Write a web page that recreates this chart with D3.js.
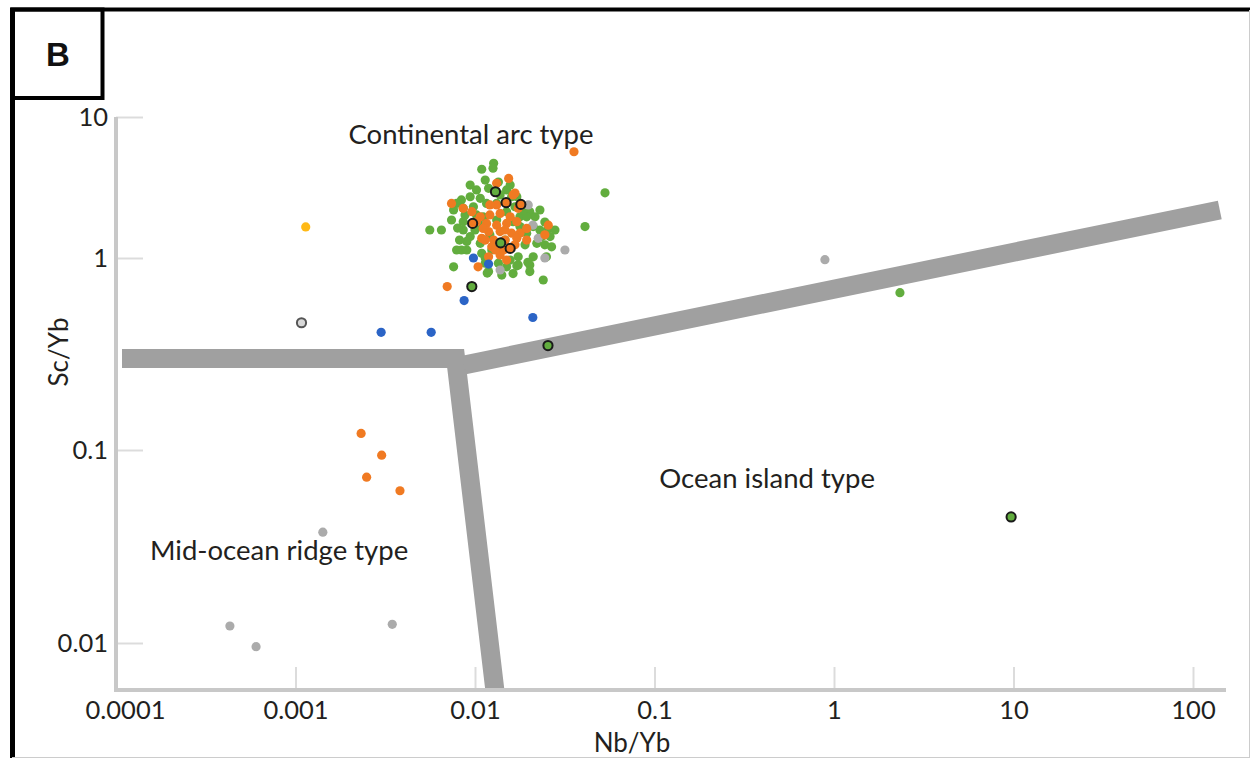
<!DOCTYPE html>
<html>
<head>
<meta charset="utf-8">
<script src="https://cdn.jsdelivr.net/npm/d3@7"></script>
<style>
  body { margin: 0; background: #fff; }
  text { font-family: Lato, "Open Sans", sans-serif; fill: #231f20; }
</style>
</head>
<body>
<svg id="chart" width="1250" height="758"></svg>
<script>
// ---- data: [Nb/Yb, Sc/Yb] ----
const greenSamples = [
  [0.0127,4.70],[0.0126,4.33],[0.0109,4.26],[0.0114,3.57],[0.0102,3.04],[0.0119,3.12],
  [0.0107,2.65],[0.0094,2.72],[0.0084,2.58],[0.0079,2.44],[0.0086,2.25],[0.0098,2.31],
  [0.0116,2.44],[0.0132,2.44],[0.0160,2.72],[0.0167,2.31],[0.0150,2.13],[0.0178,1.96],
  [0.0202,2.13],[0.0216,1.96],[0.0211,1.67],[0.0194,1.50],[0.0230,1.58],[0.0256,1.62],
  [0.0279,1.58],[0.0262,1.42],[0.0245,1.24],[0.0267,1.20],[0.0250,1.02],[0.0211,1.02],
  [0.0202,0.92],[0.0174,0.92],[0.0163,0.83],[0.0141,0.815],[0.0119,0.85],[0.0114,0.94],
  [0.0084,1.14],[0.0079,1.14],[0.0090,1.14],[0.0076,0.90],[0.0065,1.58],[0.0056,1.58],
  [0.0410,1.67],[0.0240,0.768],[0.0202,0.85],[0.0157,0.976],[0.0135,0.94],[0.0094,1.42],
  [0.0086,1.58],[0.0086,1.81],[0.0074,1.86],[0.0076,2.19],[0.0088,2.02],[0.0102,2.02],
  [0.0111,1.96],[0.0132,1.86],[0.0163,1.81],[0.0178,1.67],[0.0194,1.96],[0.0150,3.04],
  [0.0171,2.72],[0.0186,2.19],[0.0221,1.27],[0.0236,1.42],[0.0090,1.31],[0.0107,1.27],
  [0.0124,1.14],[0.0109,1.08],[0.0150,0.90],[0.0174,1.02],[0.0117,0.835],[0.0171,0.91],
  [0.0100,1.58],[0.0121,1.46],[0.0147,1.34],[0.0107,1.71],[0.0138,2.80],[0.0157,3.29],
  [0.0230,2.19],[0.0245,1.80],[0.0190,1.24],[0.0082,1.34],[0.0114,1.00],[0.0135,3.46],
  [0.0094,3.29],[0.0080,1.63],[0.0197,0.95],
  [0.053,2.90],[2.33,0.66]
];
const orangeSamples = [
  [0.0356,5.67],[0.0154,3.67],[0.0132,3.39],[0.0163,2.80],[0.0074,2.44],[0.0086,2.25],
  [0.0096,2.13],[0.0107,1.96],[0.0121,2.02],[0.0138,2.07],[0.0157,1.96],[0.0116,1.76],
  [0.0132,1.71],[0.0150,1.76],[0.0171,1.81],[0.0119,1.54],[0.0138,1.54],[0.0160,1.50],
  [0.0178,1.50],[0.0194,1.62],[0.0109,1.38],[0.0127,1.34],[0.0147,1.34],[0.0171,1.38],
  [0.0124,1.20],[0.0144,1.14],[0.0138,1.05],[0.0150,0.976],[0.0119,1.02],[0.0104,0.90],
  [0.0070,0.71],[0.0256,1.71],[0.0245,1.46],[0.0194,1.34],[0.0111,1.62],[0.0102,1.81],
  [0.0174,2.25],[0.0132,2.38],[0.0167,2.89],[0.0147,1.58],[0.0167,1.24],[0.0130,1.14],
  [0.0114,1.34],[0.0121,2.38],
  [0.00232,0.122],[0.00302,0.094],[0.00249,0.0723],[0.00382,0.0615]
];
const graySamples = [
  [0.0198,2.38],[0.0225,1.38],[0.0245,1.00],[0.0317,1.14],[0.0138,0.866],[0.0210,1.71],
  [0.89,0.98],[0.00142,0.0375],[0.000431,0.01225],[0.000603,0.00957],[0.00346,0.0125]
];
const blueSamples = [[0.0030,0.41],[0.0057,0.41],[0.0087,0.60],[0.021,0.49],[0.0098,1.00],[0.0119,0.93]];
const yellowSamples = [[0.00114,1.66]];
const ringedGreen = [[0.0130,2.95],[0.0139,1.28],[0.0096,0.71],[0.0255,0.35],[9.7,0.045]];
const ringedOrange = [[0.0149,2.47],[0.0180,2.40],[0.0097,1.76],[0.0157,1.17]];
const ringedGray = [[0.00108,0.46]];

// field boundaries
const boundaryMorbArc = [[1.08e-4,0.30],[0.0078,0.30],[0.0129,0.0057]];
const boundaryArcOib = [[0.0087,0.277],[141,2.19]];

const xTicks = [0.0001,0.001,0.01,0.1,1,10,100];
const xTickLabels = ["0.0001","0.001","0.01","0.1","1","10","100"];
const yTicks = [10,1,0.1,0.01];
const yTickLabels = ["10","1","0.1","0.01"];

const regionLabels = ["Continental arc type","Ocean island type","Mid-ocean ridge type"];
const regionAnchors = [[0.0095,6.44],[0.424,0.0635],[0.00081,0.0269]];

// ---- chart ----
const svg = d3.select("#chart");

const x = d3.scaleLog().domain([1e-4, 100]).range([116, 1193]);
// the original figure's decades are not evenly spaced on the y axis
const y = d3.scaleLog().domain([0.0057, 0.01, 0.1, 1, 10]).range([690, 643, 450, 258, 117]);

// frame + panel letter
svg.append("line").attr("x1", 10).attr("x2", 1250).attr("y1", 9.5).attr("y2", 9.5)
  .attr("stroke", "#000").attr("stroke-width", 4);
svg.append("line").attr("x1", 12.5).attr("x2", 12.5).attr("y1", 8).attr("y2", 758)
  .attr("stroke", "#000").attr("stroke-width", 5);
svg.append("line").attr("x1", 1249.5).attr("x2", 1249.5).attr("y1", 10).attr("y2", 758)
  .attr("stroke", "#ccc").attr("stroke-width", 1);
svg.append("line").attr("x1", 12).attr("x2", 1250).attr("y1", 757.5).attr("y2", 757.5)
  .attr("stroke", "#ccc").attr("stroke-width", 1);
svg.append("rect").attr("x", 12.5).attr("y", 9.5).attr("width", 90).attr("height", 88.5)
  .attr("fill", "none").attr("stroke", "#000").attr("stroke-width", 4);
svg.append("text").attr("x", 58).attr("y", 66).attr("text-anchor", "middle")
  .style("font-family", "'Liberation Sans', Arial, sans-serif").style("font-weight", "bold")
  .style("font-size", "33px").style("fill", "#111").text("B");

// axes
const xAxis = svg.append("g").attr("transform", "translate(0,690)")
  .call(d3.axisBottom(x).tickValues(xTicks).tickFormat((d, i) => xTickLabels[i])
    .tickSize(-23).tickSizeOuter(0).tickPadding(11));
const yAxis = svg.append("g").attr("transform", "translate(116,0)")
  .call(d3.axisLeft(y).tickValues(yTicks).tickFormat((d, i) => yTickLabels[i])
    .tickSize(-27).tickSizeOuter(0).tickPadding(8));

[xAxis, yAxis].forEach(g => {
  g.select(".domain").remove();
  g.selectAll(".tick line").attr("stroke", "#dcdcdc").attr("stroke-width", 2);
  g.selectAll(".tick text").style("font-family", "Lato, sans-serif").style("font-size", "25.5px")
    .attr("fill", "#231f20");
});
xAxis.selectAll(".tick text").attr("dx", (d, i) => i === 0 ? 9 : 0);

svg.append("line").attr("x1", 116).attr("x2", 1226).attr("y1", 690).attr("y2", 690)
  .attr("stroke", "#c8c8c8").attr("stroke-width", 4);
svg.append("line").attr("x1", 116).attr("x2", 116).attr("y1", 117).attr("y2", 692)
  .attr("stroke", "#c8c8c8").attr("stroke-width", 4);

svg.append("text").attr("x", 632).attr("y", 752).attr("text-anchor", "middle")
  .style("font-size", "26px").text("Nb/Yb");
svg.append("text").attr("transform", "translate(68,352) rotate(-90)").attr("text-anchor", "middle")
  .style("font-size", "26px").text("Sc/Yb");

// boundaries
svg.append("clipPath").attr("id", "plotClip").append("rect")
  .attr("x", 0).attr("y", 0).attr("width", 1250).attr("height", 688);
const line = d3.line().x(d => x(d[0])).y(d => y(d[1]));
const bands = svg.append("g").attr("clip-path", "url(#plotClip)");
[boundaryMorbArc, boundaryArcOib].forEach(b => {
  bands.append("path").attr("d", line(b)).attr("fill", "none")
    .attr("stroke", "#a0a0a0").attr("stroke-width", 19)
    .attr("stroke-linejoin", "miter").attr("stroke-linecap", "butt");
});

// region labels
svg.selectAll("text.region").data(regionLabels).join("text")
  .attr("class", "region")
  .attr("x", (d, i) => x(regionAnchors[i][0]))
  .attr("y", (d, i) => y(regionAnchors[i][1]))
  .attr("text-anchor", "middle")
  .style("font-size", "27.5px")
  .text(d => d);

// points
function drawPoints(data, fill, stroke) {
  svg.append("g").selectAll("circle").data(data).join("circle")
    .attr("cx", d => x(d[0])).attr("cy", d => y(d[1]))
    .attr("r", 4.6)
    .attr("fill", fill)
    .attr("stroke", stroke || "none")
    .attr("stroke-width", stroke ? 2 : 0);
}
drawPoints(greenSamples, "#62ad3e");
drawPoints(graySamples, "#ababab");
drawPoints(orangeSamples, "#f07a22");
drawPoints(blueSamples, "#2b64c6");
drawPoints(yellowSamples, "#ffb916");
drawPoints(ringedGreen, "#62ad3e", "#1a1a1a");
drawPoints(ringedOrange, "#f07a22", "#1a1a1a");
drawPoints(ringedGray, "#d8d8d8", "#555");
</script>
</body>
</html>
